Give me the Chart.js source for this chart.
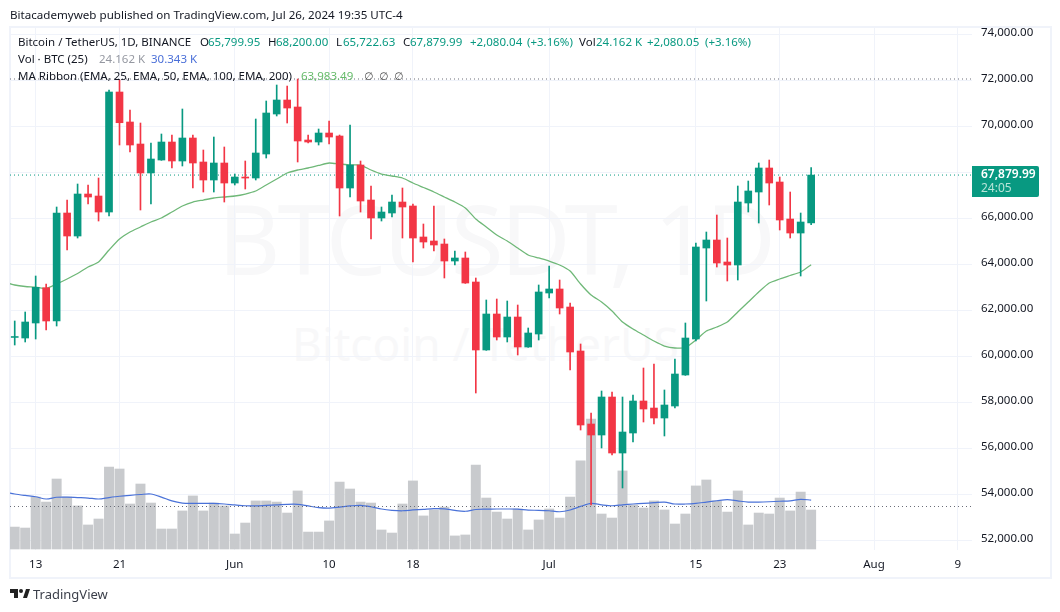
<!DOCTYPE html>
<html><head><meta charset="utf-8">
<script src="https://cdn.jsdelivr.net/npm/chart.js@4/dist/chart.umd.min.js"></script>
<style>
html,body{margin:0;padding:0;background:#fff;width:1060px;height:612px;overflow:hidden}
#wrap{position:relative;width:1060px;height:612px;font-family:"Noto Sans",sans-serif;color:#131722}
canvas{position:absolute;left:0;top:0;z-index:2}
.t{position:absolute;white-space:nowrap;font-size:11.5px;line-height:14px;z-index:3}
.g{color:#089981}.b{color:#4a6fd8}.m{color:#9598a1}.e{color:#66bb6a}
.z{color:#555;font-family:"DejaVu Sans",sans-serif;font-size:10.5px}
#frame{position:absolute;left:9px;top:26px;width:1039px;height:549px;border:2px solid #f0f3fa;z-index:1}
.wm{position:absolute;white-space:nowrap;color:#f8f8f9;z-index:0;font-family:"Noto Sans",sans-serif}
#tag{position:absolute;left:972px;top:166px;width:67px;height:31px;background:#089981;border-radius:0 2px 2px 0;z-index:3;color:#fff;font-size:12px;line-height:14px}
#tag div{padding-left:9px}
</style></head><body>
<div id="wrap">
<div id="frame"></div>
<div class="wm" style="left:218px;top:183px;font-size:96px;line-height:110px;letter-spacing:-3px">BTCUSDT, 1D</div>
<div class="wm" style="left:292px;top:315px;font-size:46px;line-height:56px">Bitcoin / TetherUS</div>
<canvas id="c" width="1060" height="612"></canvas>
<div class="t" style="left:10px;top:8px;font-size:11.6px">Bitacademyweb published on TradingView.com, Jul 26, 2024 19:35 UTC-4</div>
<div class="t" style="left:18px;top:35px">Bitcoin / TetherUS, 1D, BINANCE</div>
<div class="t" style="left:200px;top:35px">O</div><div class="t g" style="left:208px;top:35px">65,799.95</div>
<div class="t" style="left:268px;top:35px">H</div><div class="t g" style="left:276px;top:35px">68,200.00</div>
<div class="t" style="left:336px;top:35px">L</div><div class="t g" style="left:343px;top:35px">65,722.63</div>
<div class="t" style="left:403px;top:35px">C</div><div class="t g" style="left:410px;top:35px">67,879.99</div>
<div class="t g" style="left:470px;top:35px">+2,080.04</div><div class="t g" style="left:527px;top:35px">(+3.16%)</div>
<div class="t" style="left:579px;top:35px">Vol</div><div class="t g" style="left:596px;top:35px">24.162 K</div>
<div class="t g" style="left:647px;top:35px">+2,080.05</div><div class="t g" style="left:705px;top:35px">(+3.16%)</div>
<div class="t" style="left:18px;top:52px">Vol · BTC (25)</div>
<div class="t m" style="left:99px;top:52px">24.162 K</div><div class="t b" style="left:151px;top:52px">30.343 K</div>
<div class="t" style="left:18px;top:69px">MA Ribbon (EMA, 25, EMA, 50, EMA, 100, EMA, 200)</div>
<div class="t e" style="left:301px;top:69px">63,983.49</div>
<div class="t z" style="left:364px;top:69px">∅</div><div class="t z" style="left:379px;top:69px">∅</div><div class="t z" style="left:394px;top:69px">∅</div>
<div id="tag"><div style="margin-top:1px;font-weight:600">67,879.99</div><div style="color:#b7e4d8">24:05</div></div>
<svg style="position:absolute;left:10px;top:589px;z-index:3" width="20" height="10" viewBox="0 0 20 10"><path d="M0 0H8V9H4V4H0Z M13 9L16 0H20L17 9Z" fill="#222"/><circle cx="11" cy="2" r="2" fill="#222"/></svg>
<div class="t" style="left:33px;top:587px;font-size:13px;line-height:15px;color:#3b3f4a">TradingView</div>
</div>
<script>
const opens=[60820,60795,61448,62982,61535,66230,65230,67056,66969,66273,71491,70187,69230,67970,68534,69317,68491,69491,68448,67665,68404,67534,67795,67752,68795,70534,71143,70839,69404,69317,69708,69578,67317,68317,66795,66013,66230,66708,66535,65187,65013,64882,64143,64274,63230,60274,61839,60839,61708,60404,60969,62752,62926,62143,60230,57056,56578,58230,55795,56665,58056,57751,57317,57838,59187,60752,64708,65056,64100,63970,66665,67143,68187,67578,65969,65360,65799.95];
const highs=[61535,61926,63491,63143,66491,66795,67491,67448,67752,71578,72013,70709,70143,69274,69665,69621,70752,69621,68969,69534,69100,67926,68491,70317,71100,71795,71750,72056,69621,69882,70230,69621,70056,68491,67404,66491,67013,67317,66622,65752,66535,65100,64578,64535,63404,62448,62491,62404,62230,61230,63100,63926,63317,62317,60535,57534,58491,58448,58230,58317,59491,59665,58535,59882,61448,64926,65404,66143,65143,67404,67621,68404,68534,67795,67143,66230,68200];
const lows=[60491,60622,60752,61143,61317,64621,65143,66622,65882,66100,69187,68882,66361,66622,68520,68187,68274,67317,67143,67143,66708,67448,67274,67665,68621,70448,70143,68448,69274,69187,69230,66100,66926,66273,65100,65882,66056,65143,64100,64708,64578,63404,63970,63170,58404,60260,60708,60622,60056,60390,60708,62535,61839,59404,56795,53535,56013,55708,54274,56274,57143,57056,56535,57751,59170,60665,62404,63882,63274,63317,66273,65795,66578,65491,65143,63491,65722.63];
const closes=[60860,61491,63000,61535,66230,65230,67056,66926,66273,71491,70156,69187,67970,68578,69317,68491,69491,68404,67665,68404,67534,67795,67750,68839,70578,71143,70795,69361,69317,69708,69534,67317,68317,66752,66013,66273,66708,66491,65143,64969,64839,64143,64274,63186,60274,61839,60839,61708,60404,61013,62796,62926,62100,60187,57013,56578,58230,55795,56708,58056,57708,57317,57882,59230,60795,64752,65056,64056,63970,66708,67187,68187,67534,65926,65360,65839,67879.99];
const volumes=[13.6,13.0,32.2,29.1,43.4,32.2,26.7,14.9,18.6,50.8,49.6,27.9,40.3,28.5,12.4,12.4,23.6,32.9,23.6,28.5,26.7,9.3,16.1,29.8,29.8,29.1,22.3,36.0,10.5,10.5,17.4,41.5,37.2,29.1,28.5,11.8,9.9,27.9,42.2,20.5,24.2,26.0,8.1,8.7,52.1,31.6,22.9,18.6,24.8,11.8,18.0,24.8,19.2,32.2,54.6,80.6,21.7,19.2,48.4,27.3,25.4,29.8,24.2,15.5,21.7,39.1,42.8,29.8,22.9,36.0,14.9,22.3,21.7,31.6,23.6,35.3,24.162];
// both moving averages start one day before the first candle (off the left edge of the pane)
const ema25=[63230,63100,63035,63005,62948,63143,63361,63600,63882,64100,64621,65100,65404,65621,65839,66013,66273,66535,66708,66795,66882,66926,66969,67056,67187,67448,67708,67970,68100,68187,68296,68404,68360,68317,68317,68100,67926,67839,67752,67534,67339,67143,66926,66708,66448,65969,65621,65273,65013,64708,64404,64274,64143,63970,63708,63143,62665,62361,61970,61491,61187,60926,60665,60447,60360,60382,60708,61100,61274,61491,61926,62361,62795,63186,63361,63513,63665,63983.49];
const volMA=[35.3,34.1,33.2,32.4,31.0,32.1,32.2,31.9,31.6,31.0,31.9,32.7,33.3,33.8,34.1,32.2,29.8,28.5,28.3,28.3,28.3,27.9,27.3,26.8,26.7,27.0,27.3,27.7,27.7,26.7,25.7,25.4,26.0,26.7,27.1,26.2,24.8,24.0,23.7,24.2,24.6,25.0,24.9,23.9,23.4,24.5,24.7,24.8,24.8,24.7,24.1,24.0,23.7,23.1,24.2,26.4,28.3,27.4,26.8,27.4,27.9,28.3,28.7,29.1,27.9,27.9,28.3,29.1,29.9,30.6,29.8,29.1,29.1,29.3,29.6,29.8,30.8,30.343];
const xTickDays=[2,10,21,30,38,51,65,73,82,90];
const xTickLabels=['13','21','Jun','10','18','Jul','15','23','Aug','9'];
const priceTicks=[52000,54000,56000,58000,60000,62000,64000,66000,68000,70000,72000,74000];
const lastPrice=67879.99, rangeHigh=72056, lastVolLine=26.35;
const GREEN='#089981',RED='#f23645',GRID='#f0f3fa';
const X_MIN=-0.45,X_MAX=91.35;
const colors=opens.map((o,i)=>closes[i]>=o?GREEN:RED);
const bodies=opens.map((o,i)=>({x:i,y:[o,closes[i]]}));
const wicks=lows.map((l,i)=>({x:i,y:[l,highs[i]]}));
const volBars=volumes.map((v,i)=>({x:i,y:v}));
const emaPts=ema25.map((v,i)=>({x:i-1,y:v}));
const vmaPts=volMA.map((v,i)=>({x:i-1,y:v}));
const span=v=>[{x:X_MIN,y:v},{x:X_MAX,y:v}];
new Chart(document.getElementById('c'),{
 type:'bar',
 data:{datasets:[
  {type:'bar',data:volBars,yAxisID:'yv',backgroundColor:'#c8cacd',barThickness:9.3,grouped:false,order:10},
  {type:'line',data:vmaPts,yAxisID:'yv',borderColor:'#4a72d8',borderWidth:1.2,pointRadius:0,tension:0.3,order:9},
  {type:'line',data:span(lastVolLine),yAxisID:'yv',borderColor:'#6a6d78',borderWidth:1,borderDash:[1,3],pointRadius:0,order:8},
  {type:'line',data:span(rangeHigh),yAxisID:'y',borderColor:'#6a6d78',borderWidth:1,borderDash:[1,3],pointRadius:0,order:8},
  {type:'line',data:span(lastPrice),yAxisID:'y',borderColor:GREEN,borderWidth:1,borderDash:[1,3],pointRadius:0,order:8},
  {type:'line',data:emaPts,yAxisID:'y',borderColor:'#6fb878',borderWidth:1.3,pointRadius:0,tension:0.2,order:6},
  {type:'bar',data:wicks,yAxisID:'y',backgroundColor:colors,barThickness:1,grouped:false,order:5},
  {type:'bar',data:bodies,yAxisID:'y',backgroundColor:colors,barThickness:7,grouped:false,order:4}
 ]},
 options:{
  responsive:false,animation:false,
  layout:{padding:{left:10,top:28,right:10,bottom:36}},
  plugins:{legend:{display:false},tooltip:{enabled:false},title:{display:false}},
  scales:{
   x:{type:'linear',position:'bottom',offset:false,min:X_MIN,max:X_MAX,
      grid:{color:GRID,lineWidth:1,offset:false,drawTicks:false},border:{display:false},
      afterBuildTicks:a=>{a.ticks=xTickDays.map(v=>({value:v}));},
      afterFit:s=>{s.height=26;},
      ticks:{autoSkip:false,maxRotation:0,padding:8,color:'#131722',font:{family:'"Noto Sans"',size:11.5},
        callback:v=>xTickLabels[xTickDays.indexOf(v)]}},
   y:{type:'linear',position:'right',min:51578,max:74274,
      grid:{color:GRID,lineWidth:1,drawTicks:false},border:{display:false},
      afterBuildTicks:a=>{a.ticks=priceTicks.map(v=>({value:v}));},
      afterFit:s=>{s.width=78;},
      ticks:{padding:9,color:'#131722',font:{family:'"Noto Sans"',size:11.5,lineHeight:'3px'},
        callback:v=>[v.toLocaleString('en-US',{minimumFractionDigits:2,maximumFractionDigits:2}),'']}},
   yv:{type:'linear',display:false,min:-0.62,max:323.02}
  }
 }
});
</script>
</body></html>
